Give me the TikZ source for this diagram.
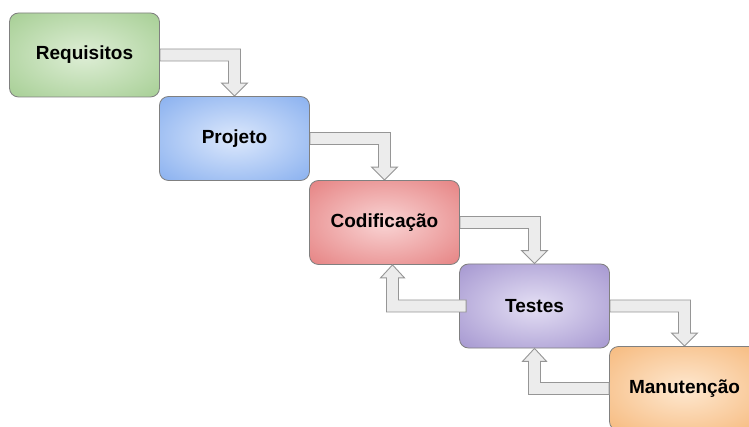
\documentclass[tikz,border=0pt]{standalone}
\usepackage{fontspec}
\setmainfont{Liberation Sans}
\usetikzlibrary{calc}
\definecolor{gIn}{RGB}{222,238,214}
\definecolor{gOut}{RGB}{144,194,122}
\definecolor{bIn}{RGB}{220,232,252}
\definecolor{bOut}{RGB}{104,154,234}
\definecolor{rIn}{RGB}{249,212,212}
\definecolor{rOut}{RGB}{222,98,98}
\definecolor{pIn}{RGB}{228,223,244}
\definecolor{pOut}{RGB}{140,122,194}
\definecolor{oIn}{RGB}{254,232,208}
\definecolor{oOut}{RGB}{243,168,94}
\definecolor{arrFill}{RGB}{236,236,236}
\definecolor{arrLine}{RGB}{150,150,150}
\definecolor{boxLine}{RGB}{128,128,128}
\pgfdeclarelayer{background}
\pgfsetlayers{background,main}
\pgfdeclareradialshading[boxin,boxout]{boxrad}{\pgfpoint{0bp}{0bp}}{color(0bp)=(boxin); color(50bp)=(boxout)}
\tikzset{
  phase/.style 2 args={draw=boxLine, line width=0.8pt, rounded corners=9pt,
    minimum width=150pt, minimum height=84pt, inner sep=0pt,
    /utils/exec={\colorlet{boxin}{#1}\colorlet{boxout}{#2}}, shading=boxrad,
    font=\fontsize{19pt}{21pt}\selectfont\bfseries, text=black},
  flow/.style={fill=arrFill, draw=arrLine, line width=0.9pt, line join=miter}
}
% forward arrow: from right side of #1 to top of #2
\newcommand{\fwdarr}[2]{%
  \path[flow] let \p1=(#1.east), \p2=(#2.north) in
    (\x1,\y1+6pt) -- (\x2+6pt,\y1+6pt) -- (\x2+6pt,\y2+13pt) -- (\x2+13pt,\y2+13pt)
    -- (\x2,\y2) -- (\x2-13pt,\y2+13pt) -- (\x2-6pt,\y2+13pt) -- (\x2-6pt,\y1-6pt)
    -- (\x1,\y1-6pt) -- cycle;}
% back arrow: from left side of #1 to bottom of #2; #3 start x offset, #4 tip x offset
\newcommand{\backarr}[4]{%
  \path[flow] let \p1=(#1.west), \p2=(#2.south) in
    (\x1+#3,\y1-6pt) -- (\x2+#4-6pt,\y1-6pt) -- (\x2+#4-6pt,\y2-13pt) -- (\x2+#4-12pt,\y2-13pt)
    -- (\x2+#4,\y2) -- (\x2+#4+12pt,\y2-13pt) -- (\x2+#4+6pt,\y2-13pt) -- (\x2+#4+6pt,\y1+6pt)
    -- (\x1+#3,\y1+6pt) -- cycle;}
\begin{document}
\begin{tikzpicture}[x=1pt,y=1pt]
\useasboundingbox (0,0) rectangle (749,-427);
\clip (0,0) rectangle (749,-427);
\path
  (84.5,-55) node[phase={gIn}{gOut}] (req) {Requisitos}
  (234.5,-138.5) node[phase={bIn}{bOut}] (proj) {Projeto}
  (384.5,-222.5) node[phase={rIn}{rOut}] (cod) {Codifica\c{c}\~ao}
  (534.5,-306) node[phase={pIn}{pOut}] (test) {Testes}
  (684.5,-388.5) node[phase={oIn}{oOut}] (man) {Manuten\c{c}\~ao};
\begin{pgfonlayer}{background}
  \fill[white] (0,0) rectangle (749,-427);
  \fwdarr{req}{proj}
  \fwdarr{proj}{cod}
  \fwdarr{cod}{test}
  \fwdarr{test}{man}
\end{pgfonlayer}
\backarr{test}{cod}{7pt}{8pt}
\backarr{man}{test}{0pt}{0pt}
\end{tikzpicture}
\end{document}
